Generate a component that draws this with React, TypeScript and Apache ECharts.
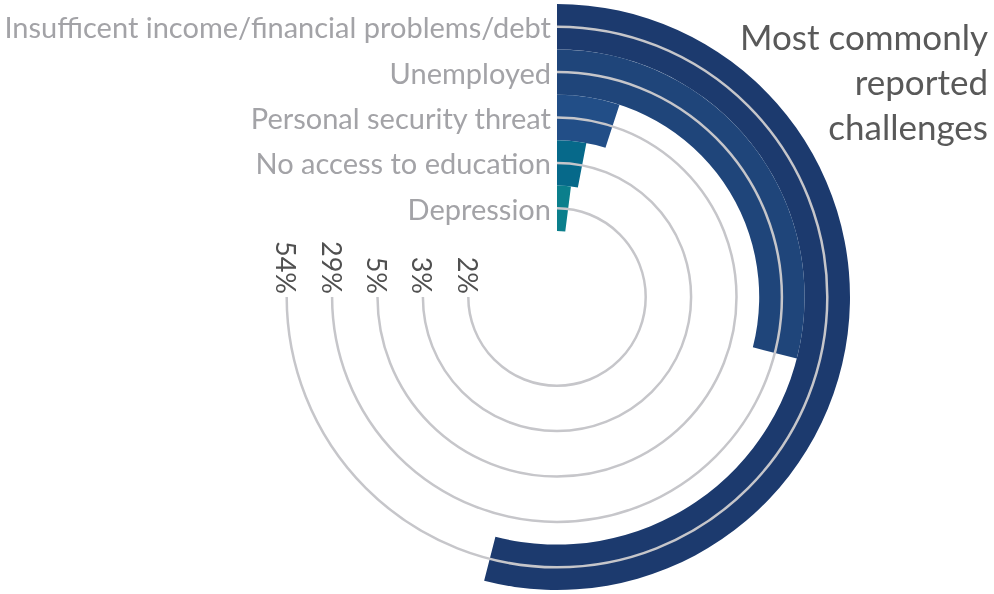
import React, { useEffect, useRef } from "react";
import * as echarts from "echarts";

const categories = [
  "Insufficent income/financial problems/debt",
  "Unemployed",
  "Personal security threat",
  "No access to education",
  "Depression",
];
const values = [54, 29, 5, 3, 2];
const barColors = ["#1c3a6e", "#1f457a", "#224e87", "#06698a", "#0b7f8c"];
const titleLines = ["Most commonly", "reported", "challenges"];

export default function App() {
  const ref = useRef<HTMLDivElement>(null);
  useEffect(() => {
    const chart = echarts.init(ref.current!, null, { renderer: "svg" });
    const renderItem = (params: any, api: any) => {
      const cs = params.coordSys;
      const pt = api.coord([api.value(0), 0]);
      const r = cs.cy - pt[1];
      return {
        type: "group",
        children: [
          {
            type: "arc",
            shape: { cx: cs.cx, cy: cs.cy, r, startAngle: -Math.PI / 2, endAngle: Math.PI, clockwise: true },
            style: { stroke: "#c6c6ca", lineWidth: 2.5, fill: null },
          },
          {
            type: "text",
            x: cs.cx - r,
            y: cs.cy - 3,
            rotation: -Math.PI / 2,
            style: {
              text: api.value(1) + "%",
              align: "right",
              verticalAlign: "middle",
              fill: "#505050",
              fontSize: 27,
              fontFamily: "Lato",
            },
          },
        ],
      };
    };
    chart.setOption({
      animation: false,
      title: {
        text: titleLines.join("\n"),
        left: 983,
        top: 8,
        textAlign: "right",
        textStyle: { fontFamily: "Lato", fontSize: 35, fontWeight: "normal", color: "#595959", lineHeight: 45 },
      },
      polar: { center: [557, 297], radius: [66, 293] },
      angleAxis: { type: "value", min: 0, max: 100, startAngle: 90, clockwise: true, show: false },
      radiusAxis: {
        type: "category",
        data: categories,
        inverse: true,
        axisLine: { show: false },
        axisTick: { show: false },
        splitLine: { show: false },
        axisLabel: { color: "#a3a3a7", fontSize: 29, fontFamily: "Lato", margin: 6, interval: 0 },
        z: 10,
      },
      series: [
        {
          type: "bar",
          coordinateSystem: "polar",
          data: values.map((v, i) => ({ value: v, itemStyle: { color: barColors[i] } })),
          barCategoryGap: "0%",
          z: 2,
          silent: true,
        },
        {
          type: "custom",
          coordinateSystem: "polar",
          data: values.map((v, i) => [i, v]),
          renderItem,
          z: 3,
          silent: true,
        },
      ],
    });
    return () => chart.dispose();
  }, []);
  return <div ref={ref} style={{ position: "fixed", left: 0, top: 0, width: 994, height: 594 }} />;
}
